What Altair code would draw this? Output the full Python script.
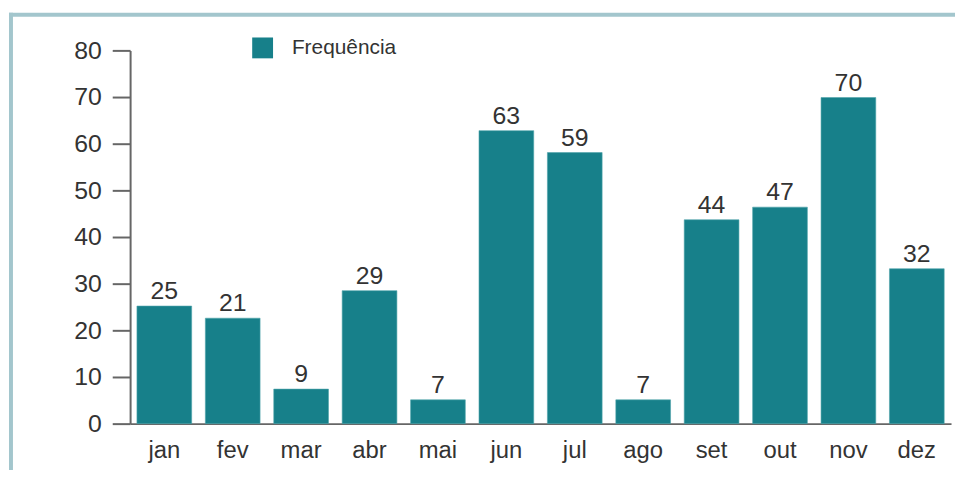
import altair as alt
import pandas as pd

months = ["jan", "fev", "mar", "abr", "mai", "jun", "jul", "ago", "set", "out", "nov", "dez"]
bar_heights = [25.2, 22.6, 7.4, 28.5, 5.1, 62.8, 58.1, 5.1, 43.7, 46.4, 69.9, 33.2]
labels = [25, 21, 9, 29, 7, 63, 59, 7, 44, 47, 70, 32]
series_name = "Frequência"
y_ticks = [0, 10, 20, 30, 40, 50, 60, 70, 80]

df = pd.DataFrame({
    "mes": months,
    "altura": bar_heights,
    "rotulo": [str(v) for v in labels],
    "serie": [series_name] * len(months),
})

BAR = "#17808a"
TXT = "#333333"
AX = "#666666"
BORDER = "#a3c6cd"

x_enc = alt.X("mes:N", sort=months,
              scale=alt.Scale(paddingInner=0.2, paddingOuter=0.1),
              axis=alt.Axis(title=None, labelAngle=0, ticks=False, labelPadding=15,
                            labelFontSize=24, labelColor=TXT, domainColor=AX,
                            domainWidth=2))
y_enc = alt.Y("altura:Q", scale=alt.Scale(domain=[0, 80], nice=False),
              axis=alt.Axis(title=None, values=y_ticks, tickSize=18, tickWidth=2,
                            tickColor=AX, labelPadding=11, labelFontSize=25,
                            labelColor=TXT, domainColor=AX, domainWidth=2,
                            grid=False))

bars = alt.Chart(df).mark_bar(stroke="#4fa3aa", strokeWidth=0.6).encode(
    x=x_enc,
    y=y_enc,
    color=alt.Color("serie:N", scale=alt.Scale(domain=[series_name], range=[BAR]),
                    legend=alt.Legend(title=None, orient="none", legendX=123,
                                      legendY=-13, symbolType="square",
                                      symbolSize=441, symbolStrokeWidth=0,
                                      labelFontSize=21, labelColor=TXT,
                                      labelOffset=19, padding=0)),
)

text = alt.Chart(df).mark_text(fontSize=25, color=TXT, baseline="alphabetic", dy=-7).encode(
    x=alt.X("mes:N", sort=months),
    y="altura:Q",
    text="rotulo:N",
)

border_top = alt.Chart(alt.Data(values=[{"k": 1}])).mark_rule(
    color=BORDER, strokeWidth=4).encode(
    x=alt.value(-122), x2=alt.value(835), y=alt.value(-36))
border_left = alt.Chart(alt.Data(values=[{"k": 1}])).mark_rule(
    color=BORDER, strokeWidth=4).encode(
    x=alt.value(-120), y=alt.value(-38), y2=alt.value(440))

chart = alt.layer(border_top, border_left, bars, text).properties(
    width=827, height=376,
    autosize=alt.AutoSizeParams(type="none"),
    padding={"left": 123, "top": 41, "right": 4, "bottom": 45},
).configure(font="Liberation Sans").configure_view(stroke=None)

chart.save("out.html", embed_options={"renderer": "svg", "actions": False})
